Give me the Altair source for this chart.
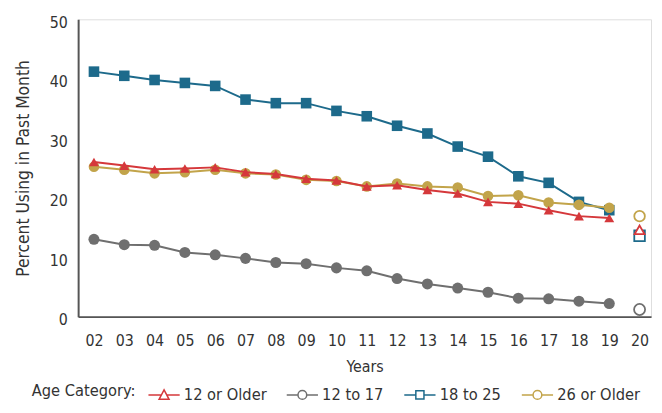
import altair as alt
import pandas as pd

# ---------------- data ----------------
years = ["02", "03", "04", "05", "06", "07", "08", "09", "10", "11",
         "12", "13", "14", "15", "16", "17", "18", "19", "20"]
series_names = ["12 or Older", "12 to 17", "18 to 25", "26 or Older"]

older12 = [26.0, 25.4, 24.8, 24.9, 25.1, 24.3, 24.0, 23.2, 22.9, 21.9,
           22.1, 21.3, 20.7, 19.3, 19.0, 17.9, 16.9, 16.6, 14.6]
age12to17 = [13.0, 12.1, 12.0, 10.8, 10.4, 9.8, 9.1, 8.9, 8.2, 7.7,
             6.4, 5.5, 4.8, 4.1, 3.1, 3.0, 2.6, 2.2, 1.2]
age18to25 = [41.2, 40.5, 39.8, 39.3, 38.8, 36.5, 35.9, 35.9, 34.6, 33.7,
             32.1, 30.8, 28.6, 26.9, 23.6, 22.5, 19.3, 17.9, 13.6]
older26 = [25.2, 24.7, 24.1, 24.3, 24.7, 24.1, 23.9, 23.0, 22.8, 21.9,
           22.4, 21.9, 21.7, 20.3, 20.4, 19.2, 18.8, 18.3, 16.9]

colors = ["#d5383b", "#6f6f6f", "#1d6a8b", "#c2a44a"]
shapes = ["triangle-up", "circle", "square", "circle"]
sizes = [100, 125, 115, 115]
legend_paths = [
    "M-1,0H-0.17M0.17,0H1M-0.32,0.28L0,-0.32L0.32,0.28Z",
    "M-1,0H-0.28M0.28,0H1M-0.28,0A0.28,0.28 0 1,0 0.28,0A0.28,0.28 0 1,0 -0.28,0Z",
    "M-1,0H-0.26M0.26,0H1M-0.26,-0.26H0.26V0.26H-0.26Z",
    "M-1,0H-0.28M0.28,0H1M-0.28,0A0.28,0.28 0 1,0 0.28,0A0.28,0.28 0 1,0 -0.28,0Z",
]
legend_fill = ["white", "white", "white", "white"]

rows = []
for name, vals in zip(series_names, [older12, age12to17, age18to25, older26]):
    for yr, v in zip(years, vals):
        rows.append({"year": yr, "series": name, "value": v})
df = pd.DataFrame(rows)

FONT = "DejaVu Sans Condensed, Liberation Sans Narrow, Liberation Sans, sans-serif"
TXT = "#333333"

x_enc = alt.X(
    "year:O",
    scale=alt.Scale(type="point", padding=0.45, align=0.58, domain=years),
    axis=alt.Axis(title="Years", labelAngle=0, ticks=False, labelPadding=16,
                  labelFontSize=16, titleFontSize=16, titlePadding=11,
                  domainColor="#555555", domainWidth=2,
                  labelColor=TXT, titleColor=TXT, titleFontWeight="normal"),
)
y_enc = alt.Y(
    "value:Q",
    scale=alt.Scale(domain=[0, 50], nice=False),
    axis=alt.Axis(title="Percent Using in Past Month", values=[0, 10, 20, 30, 40, 50],
                  grid=False, ticks=False, labelPadding=11, labelOffset=3,
                  labelFontSize=16, titleFontSize=17.5, titlePadding=17,
                  domainColor="#555555", domainWidth=2,
                  labelColor=TXT, titleColor=TXT, titleFontWeight="normal"),
)
color_scale = alt.Scale(domain=series_names, range=colors)
color_enc = alt.Color("series:N", scale=color_scale, legend=None)

base = alt.Chart(df)
layers = []

legend_props = dict(
    title="Age Category:", orient="none", direction="horizontal",
    legendX=-47, legendY=363, titleOrient="left", titleFontSize=16.5,
    titleFontWeight="normal", titleColor=TXT, titlePadding=11,
    titleBaseline="middle",
    labelFontSize=16.5, labelColor=TXT, labelOffset=3,
    symbolSize=1000, symbolStrokeWidth=1.5, symbolOpacity=1,
    columnPadding=17,
)
legend_layer = (
    base.transform_filter(alt.datum.year == "20")
    .mark_point(filled=True, strokeWidth=1.5, opacity=0)
    .encode(
        x=x_enc, y=y_enc,
        shape=alt.Shape("series:N", scale=alt.Scale(domain=series_names, range=legend_paths),
                        legend=alt.Legend(**legend_props)),
        fill=alt.Fill("series:N", scale=alt.Scale(domain=series_names, range=legend_fill),
                      legend=alt.Legend(**legend_props)),
        stroke=alt.Stroke("series:N", scale=alt.Scale(domain=series_names, range=colors),
                          legend=alt.Legend(**legend_props)),
    )
)
layers.append(legend_layer)

draw_order = [1, 2, 3, 0]
for i in draw_order:
    name = series_names[i]
    sub = base.transform_filter(alt.datum.series == name)
    layers.append(
        sub.transform_filter(alt.datum.year != "20")
        .mark_line(strokeWidth=2)
        .encode(x=x_enc, y=y_enc, color=color_enc)
    )
    layers.append(
        sub.transform_filter(alt.datum.year != "20")
        .mark_point(shape=shapes[i], filled=True, size=sizes[i], opacity=1)
        .encode(x=x_enc, y=y_enc, color=color_enc)
    )
for i in [2, 0, 3, 1]:
    name = series_names[i]
    layers.append(
        base.transform_filter((alt.datum.series == name) & (alt.datum.year == "20"))
        .mark_point(shape=shapes[i], filled=False, size=sizes[i], strokeWidth=1.8,
                    fill="white", fillOpacity=1, opacity=1)
        .encode(x=x_enc, y=y_enc, color=color_enc)
    )

chart = (
    alt.layer(*layers)
    .properties(width=580, height=301,
                padding={"left": 71, "top": 9, "right": 3, "bottom": 87},
                autosize=alt.AutoSizeParams(type="none"))
    .configure_view(stroke=None)
    .configure(font=FONT)
)

chart.save("out.html", embed_options={"renderer": "svg", "actions": False})
